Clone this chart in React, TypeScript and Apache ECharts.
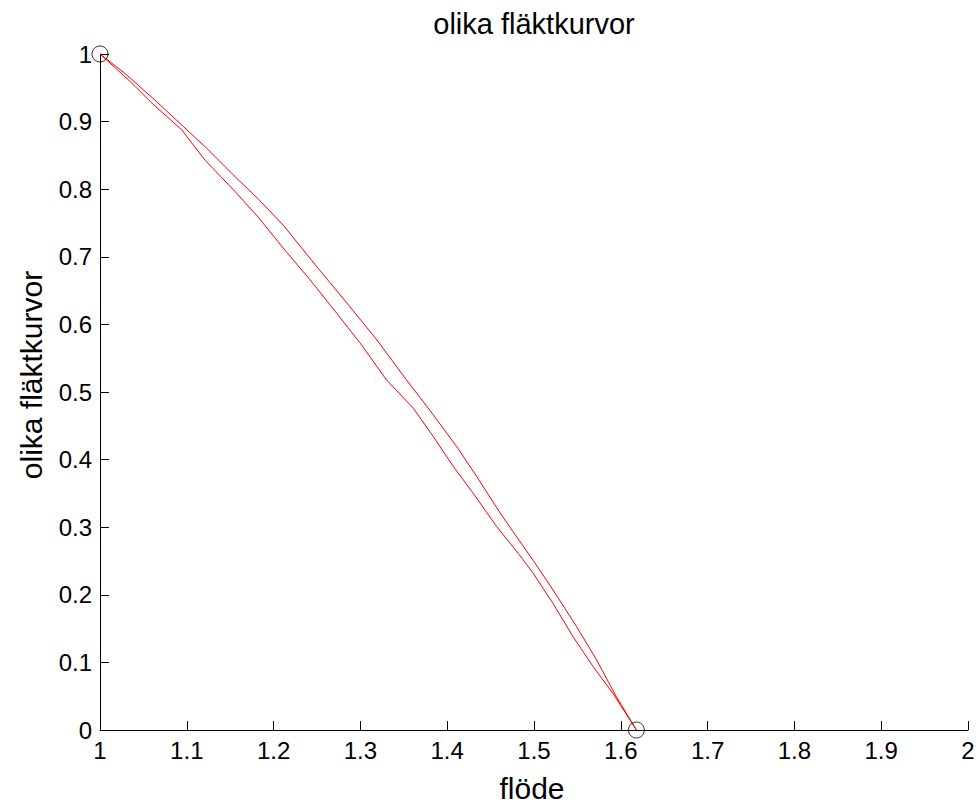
import React, { useEffect, useRef } from "react";
import * as echarts from "echarts";

const titleText = "olika fläktkurvor";
const xAxisName = "flöde";
const yAxisName = "olika fläktkurvor";

const xTickLabels = ["1", "1.1", "1.2", "1.3", "1.4", "1.5", "1.6", "1.7", "1.8", "1.9", "2"];
const yTickLabels = ["0", "0.1", "0.2", "0.3", "0.4", "0.5", "0.6", "0.7", "0.8", "0.9", "1"];

// Outer (upper) curve
const outerX = [1.0, 1.029, 1.063, 1.09, 1.125, 1.156, 1.182, 1.211, 1.25, 1.288, 1.319, 1.353, 1.38, 1.411, 1.434, 1.461, 1.488, 1.499, 1.522, 1.549, 1.572, 1.595, 1.618];
const outerY = [1.0, 0.971, 0.932, 0.9, 0.858, 0.818, 0.786, 0.747, 0.685, 0.626, 0.577, 0.518, 0.473, 0.419, 0.375, 0.321, 0.271, 0.251, 0.207, 0.153, 0.104, 0.049, 0.0];

// Inner (lower) curve
const innerX = [1.0, 1.035, 1.06, 1.094, 1.121, 1.156, 1.182, 1.211, 1.242, 1.273, 1.3, 1.33, 1.361, 1.384, 1.407, 1.43, 1.457, 1.482, 1.499, 1.522, 1.545, 1.568, 1.591, 1.618];
const innerY = [1.0, 0.959, 0.927, 0.888, 0.843, 0.796, 0.759, 0.713, 0.666, 0.616, 0.572, 0.518, 0.476, 0.434, 0.39, 0.35, 0.301, 0.261, 0.232, 0.187, 0.138, 0.094, 0.054, 0.0];

// Endpoint circle markers
const markerX = [1.0, 1.618];
const markerY = [1.0, 0.0];

const FONT = '"Liberation Sans", Arial, Helvetica, sans-serif';

export default function App() {
  const ref = useRef<HTMLDivElement>(null);

  useEffect(() => {
    document.body.style.margin = "0";
    if (!ref.current) return;
    const chart = echarts.init(ref.current, null, { renderer: "svg" });
    const zip = (xs: number[], ys: number[]) => xs.map((x, i) => [x, ys[i]]);

    chart.setOption({
      animation: false,
      backgroundColor: "#ffffff",
      grid: { left: 100, right: 10, top: 54, bottom: 77, containLabel: false },
      xAxis: {
        type: "value",
        min: 1,
        max: 2,
        interval: 0.1,
        axisLine: { show: true, onZero: false, lineStyle: { color: "#000", width: 1 } },
        axisTick: { show: true, inside: true, length: 9, lineStyle: { color: "#000", width: 1 } },
        axisLabel: {
          color: "#000",
          fontSize: 24,
          fontFamily: FONT,
          margin: 8,
          showMinLabel: true,
          showMaxLabel: true,
          formatter: (v: number) => xTickLabels[Math.round((v - 1) * 10)] ?? "",
        },
        splitLine: { show: false },
      },
      yAxis: {
        type: "value",
        min: 0,
        max: 1,
        interval: 0.1,
        axisLine: { show: true, onZero: false, lineStyle: { color: "#000", width: 1 } },
        axisTick: { show: true, inside: true, length: 9, lineStyle: { color: "#000", width: 1 } },
        axisLabel: {
          color: "#000",
          fontSize: 24,
          fontFamily: FONT,
          margin: 8,
          showMinLabel: true,
          showMaxLabel: true,
          formatter: (v: number) => yTickLabels[Math.round(v * 10)] ?? "",
        },
        splitLine: { show: false },
      },
      series: [
        {
          type: "line",
          data: zip(outerX, outerY),
          showSymbol: false,
          symbol: "none",
          clip: false,
          lineStyle: { color: "#ff0000", width: 1 },
        },
        {
          type: "line",
          data: zip(innerX, innerY),
          showSymbol: false,
          symbol: "none",
          clip: false,
          lineStyle: { color: "#ff0000", width: 1 },
        },
        {
          type: "scatter",
          data: zip(markerX, markerY),
          symbol: "circle",
          symbolSize: 16,
          clip: false,
          itemStyle: { color: "rgba(0,0,0,0)", borderColor: "#000", borderWidth: 1 },
          z: 5,
        },
      ],
      graphic: [
        {
          type: "text",
          x: 534,
          y: 24,
          style: {
            text: titleText,
            font: `29px ${FONT}`,
            fill: "#000",
            align: "center",
            verticalAlign: "middle",
            textAlign: "center",
            textVerticalAlign: "middle",
          },
        },
        {
          type: "text",
          x: 532,
          y: 788,
          style: {
            text: xAxisName,
            font: `30px ${FONT}`,
            fill: "#000",
            align: "center",
            verticalAlign: "middle",
            textAlign: "center",
            textVerticalAlign: "middle",
          },
        },
        {
          type: "text",
          x: 31,
          y: 375,
          rotation: Math.PI / 2,
          style: {
            text: yAxisName,
            font: `30px ${FONT}`,
            fill: "#000",
            align: "center",
            verticalAlign: "middle",
            textAlign: "center",
            textVerticalAlign: "middle",
          },
        },
      ],
    });

    return () => {
      chart.dispose();
    };
  }, []);

  return (
    <div
      ref={ref}
      style={{ position: "fixed", left: 0, top: 0, width: 978, height: 807, background: "#fff" }}
    />
  );
}
